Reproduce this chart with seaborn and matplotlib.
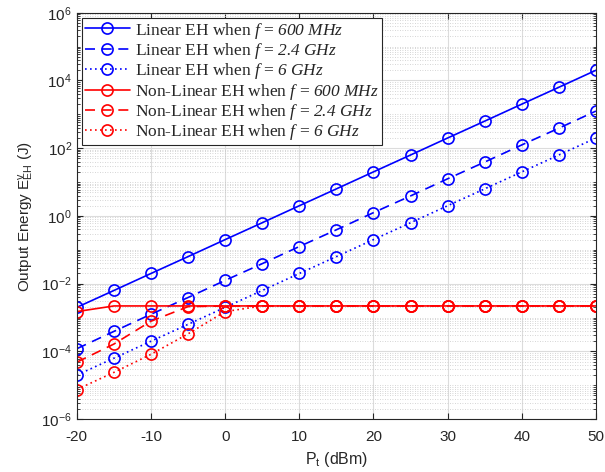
import numpy as np
import pandas as pd
import seaborn as sns
from matplotlib import pyplot as plt
from matplotlib.ticker import LogLocator, NullFormatter

# transmit power (dBm)
pt_dbm = [-20, -15, -10, -5, 0, 5, 10, 15, 20, 25, 30, 35, 40, 45, 50]

# linear EH output energy (J)
lin_600m = [2e-3, 6.3e-3, 2e-2, 6.3e-2, 0.2, 0.63, 2, 6.3, 20, 63, 200, 630, 2000, 6300, 2e4]
lin_2g4 = [1.2e-4, 3.9e-4, 1.25e-3, 3.9e-3, 1.25e-2, 3.9e-2, 0.125, 0.39, 1.25, 3.9, 12.5, 39, 125, 390, 1250]
lin_6g = [2e-5, 6.3e-5, 2e-4, 6.3e-4, 2e-3, 6.3e-3, 0.02, 0.063, 0.2, 0.63, 2, 6.3, 20, 63, 200]

# non-linear EH output energy (J)
nl_600m = [1.5e-3, 2.2e-3, 2.2e-3, 2.2e-3, 2.2e-3, 2.2e-3, 2.2e-3, 2.2e-3, 2.2e-3, 2.2e-3, 2.2e-3, 2.2e-3, 2.2e-3, 2.2e-3, 2.2e-3]
nl_2g4 = [4.8e-5, 1.65e-4, 7.8e-4, 2.1e-3, 2.2e-3, 2.2e-3, 2.2e-3, 2.2e-3, 2.2e-3, 2.2e-3, 2.2e-3, 2.2e-3, 2.2e-3, 2.2e-3, 2.2e-3]
nl_6g = [7.5e-6, 2.4e-5, 8.2e-5, 3.3e-4, 1.5e-3, 2.2e-3, 2.2e-3, 2.2e-3, 2.2e-3, 2.2e-3, 2.2e-3, 2.2e-3, 2.2e-3, 2.2e-3, 2.2e-3]

labels = [
  r"Linear EH when $f$ = $600\ MHz$",
  r"Linear EH when $f$ = $2.4\ GHz$",
  r"Linear EH when $f$ = $6\ GHz$",
  r"Non-Linear EH when $f$ = $600\ MHz$",
  r"Non-Linear EH when $f$ = $2.4\ GHz$",
  r"Non-Linear EH when $f$ = $6\ GHz$",
]
series = [lin_600m, lin_2g4, lin_6g, nl_600m, nl_2g4, nl_6g]
colors = ["#0000ff"] * 3 + ["#ff0000"] * 3
dashes = ["-", (0, (6, 4)), (0, (1, 2))] * 2

sns.set_style("ticks")
plt.rcParams["font.family"] = ["Liberation Sans", "DejaVu Sans"]
plt.rcParams["axes.unicode_minus"] = False
plt.rcParams["mathtext.fontset"] = "custom"
# serif italic for the legend's math parts, sans for axis-label sub/superscripts
plt.rcParams["mathtext.rm"] = "Liberation Serif:italic"
plt.rcParams["mathtext.it"] = "Liberation Serif:italic"
plt.rcParams["mathtext.sf"] = "Liberation Sans"

fig = plt.figure(figsize=(6.05, 4.72), dpi=100)
ax = fig.add_axes([0.127, 0.112, 0.858, 0.861])

for lab, vals, c, ls in zip(labels, series, colors, dashes):
  df = pd.DataFrame({"pt": pt_dbm, "e": vals})
  sns.lineplot(data=df, x="pt", y="e", ax=ax, color=c, linestyle=ls, linewidth=1.2,
               marker="o", markersize=8, markerfacecolor="none", markeredgecolor=c,
               markeredgewidth=1.2, label=lab)

ax.set_yscale("log")
ax.set_xlim(-20, 50)
ax.set_ylim(1e-6, 1e6)
ax.set_xticks(range(-20, 51, 10))
ax.set_yticks([10.0 ** k for k in range(-6, 7, 2)])
ax.yaxis.set_minor_locator(LogLocator(base=10, subs=np.arange(1, 10), numticks=20))
ax.yaxis.set_minor_formatter(NullFormatter())

ax.grid(True, which="major", color="#dcdcdc", linewidth=0.8, linestyle="-")
ax.grid(True, which="minor", axis="y", color="#c8c8c8", linewidth=0.6, linestyle=(0, (1, 2)))
ax.set_axisbelow(True)

ax.tick_params(which="both", direction="in", top=True, right=True, labelsize=11, colors="#262626")
ax.tick_params(which="major", length=4)
ax.tick_params(which="minor", length=2)
ax.tick_params(axis="x", which="major", pad=8)
for s in ax.spines.values():
  s.set_color("#262626")
  s.set_linewidth(0.8)

ax.set_xlabel(r"P$_\mathsf{t}$ (dBm)", fontsize=11.5, color="#262626", labelpad=4)
ax.set_ylabel(r"Output Energy E$_\mathsf{EH}^\mathsf{v}$ (J)", fontsize=11, color="#262626")

leg = ax.legend(loc="upper left", prop={"family": "Liberation Serif", "size": 12.5},
                frameon=True, fancybox=False, edgecolor="#262626", framealpha=1,
                borderaxespad=0.3, labelspacing=0.02, handlelength=2.6, handletextpad=0.3,
                borderpad=0.15)
leg.get_frame().set_linewidth(0.8)

plt.savefig("out.png", dpi=100)
plt.close()
